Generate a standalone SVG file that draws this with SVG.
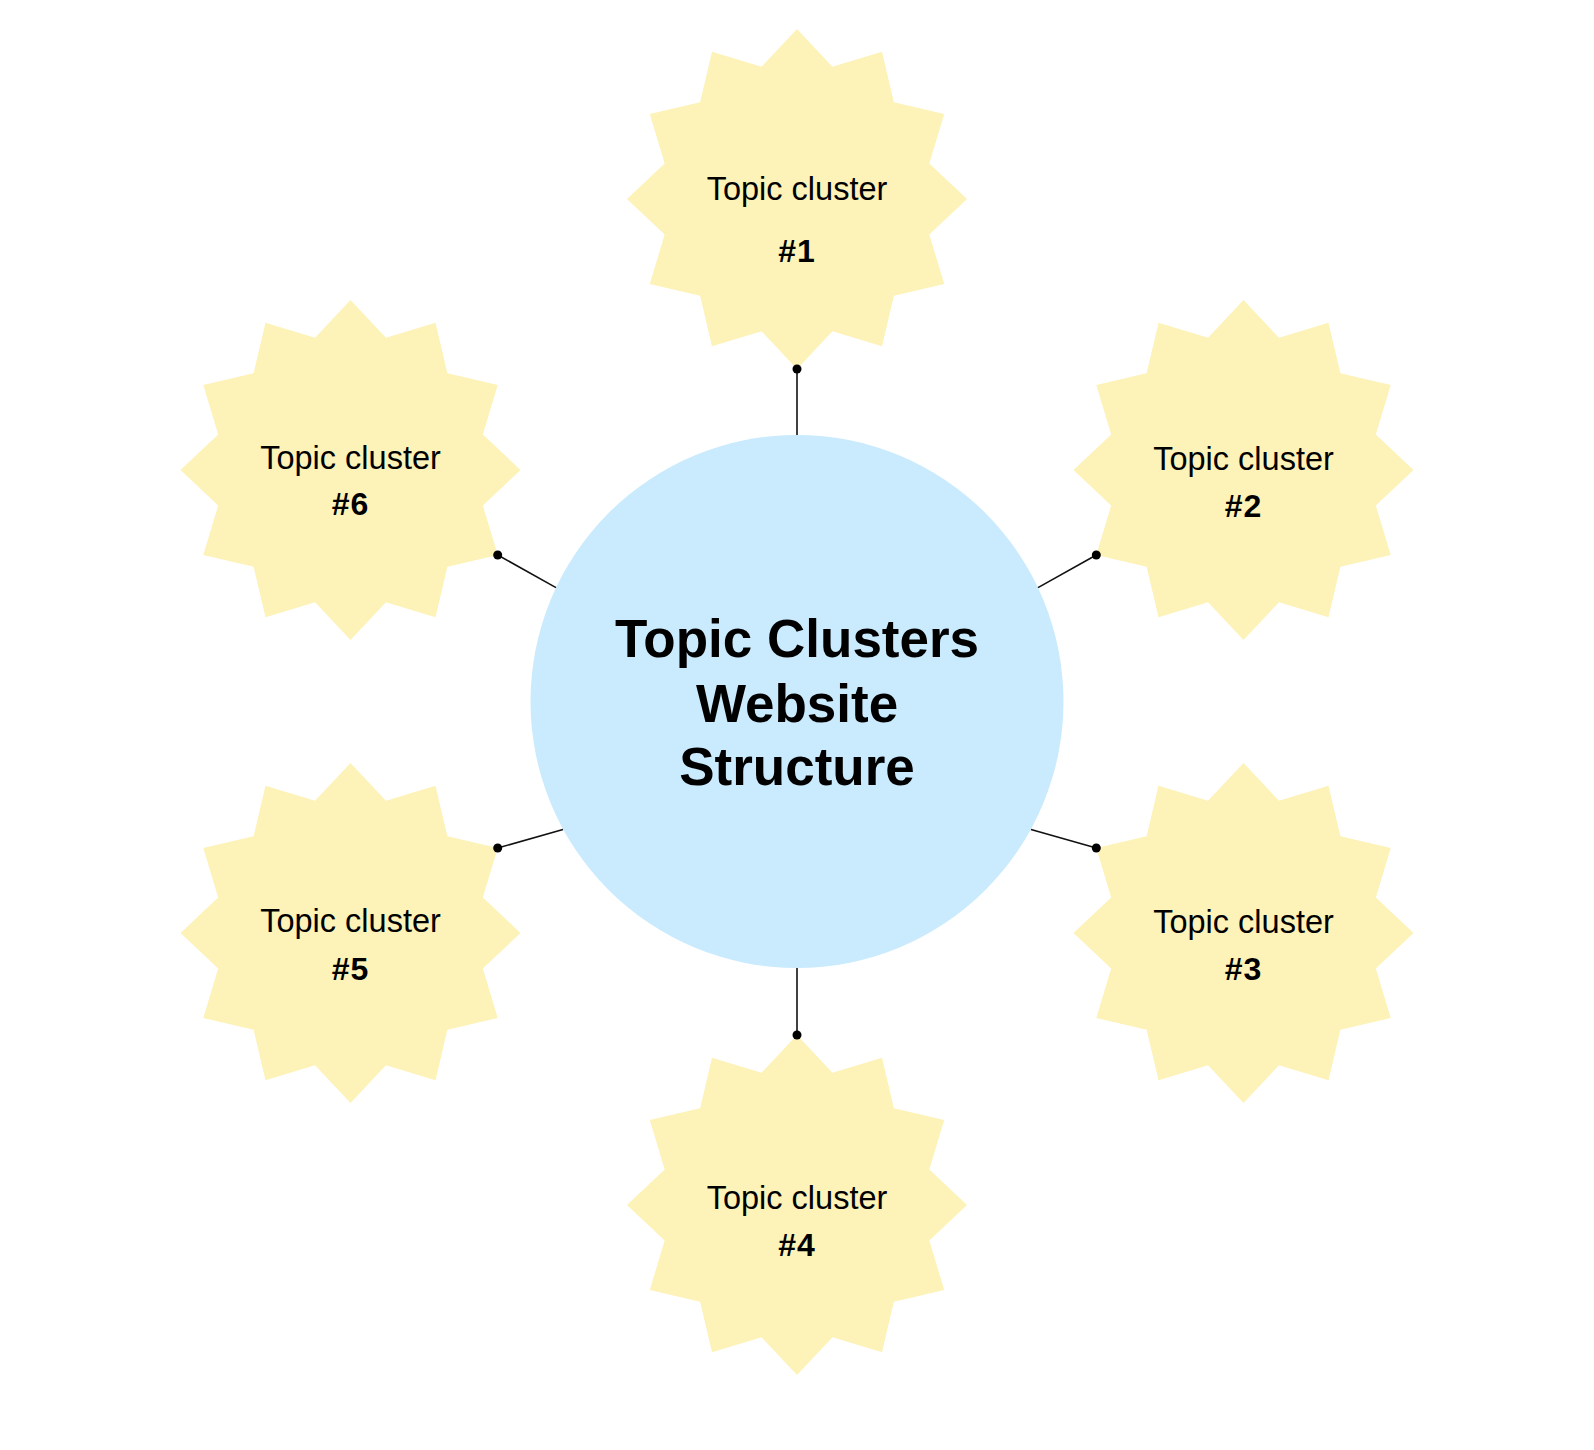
<svg xmlns="http://www.w3.org/2000/svg" xmlns:xlink="http://www.w3.org/1999/xlink" width="1594" height="1450" viewBox="0 0 1594 1450">
  <style>
    .star { fill: #FDF2B7; }
    .hub { fill: #CAEBFD; }
    .conn { stroke: #111111; stroke-width: 1.6; fill: none; }
    .dot { fill: #000000; }
    .lbl { font-family: "Liberation Sans", Arial, sans-serif; font-size: 32.5px; fill: #000000; text-anchor: middle; }
    .num { font-family: "Liberation Sans", Arial, sans-serif; font-size: 32px; font-weight: bold; fill: #000000; text-anchor: middle; letter-spacing: 1px; }
    .title { font-family: "Liberation Sans", Arial, sans-serif; font-size: 53px; font-weight: bold; fill: #000000; text-anchor: middle; }
  </style>
  <defs>
    <polygon id="starShape" points="0,-170 35.46,-132.33 85,-147.22 96.87,-96.87 147.22,-85 132.33,-35.46 170,0 132.33,35.46 147.22,85 96.87,96.87 85,147.22 35.46,132.33 0,170 -35.46,132.33 -85,147.22 -96.87,96.87 -147.22,85 -132.33,35.46 -170,0 -132.33,-35.46 -147.22,-85 -96.87,-96.87 -85,-147.22 -35.46,-132.33"/>
  </defs>
  <rect x="0" y="0" width="1594" height="1450" fill="#FFFFFF"/>

  <g id="hub">
    <circle class="hub" cx="797" cy="701.5" r="266.5"/>
    <text class="title" x="797" y="656.5">Topic Clusters</text>
    <text class="title" x="797" y="721.5">Website</text>
    <text class="title" x="797" y="785">Structure</text>
  </g>

  <g id="cluster1">
    <use xlink:href="#starShape" href="#starShape" class="star" transform="translate(797,199)"/>
    <text class="lbl" x="797" y="200">Topic cluster</text>
    <text class="num" x="797" y="261.5">#1</text>
  </g>
  <g id="cluster2">
    <use xlink:href="#starShape" href="#starShape" class="star" transform="translate(1243.5,470)"/>
    <text class="lbl" x="1243.5" y="470">Topic cluster</text>
    <text class="num" x="1243.5" y="516.5">#2</text>
  </g>
  <g id="cluster3">
    <use xlink:href="#starShape" href="#starShape" class="star" transform="translate(1243.5,933)"/>
    <text class="lbl" x="1243.5" y="933">Topic cluster</text>
    <text class="num" x="1243.5" y="980">#3</text>
  </g>
  <g id="cluster4">
    <use xlink:href="#starShape" href="#starShape" class="star" transform="translate(797,1205)"/>
    <text class="lbl" x="797" y="1209">Topic cluster</text>
    <text class="num" x="797" y="1255.5">#4</text>
  </g>
  <g id="cluster5">
    <use xlink:href="#starShape" href="#starShape" class="star" transform="translate(350.5,933)"/>
    <text class="lbl" x="350.5" y="932">Topic cluster</text>
    <text class="num" x="350.5" y="980">#5</text>
  </g>
  <g id="cluster6">
    <use xlink:href="#starShape" href="#starShape" class="star" transform="translate(350.5,470)"/>
    <text class="lbl" x="350.5" y="468.5">Topic cluster</text>
    <text class="num" x="350.5" y="515">#6</text>
  </g>

  <g id="connectors">
    <line class="conn" x1="797" y1="369" x2="797" y2="435"/>
    <line class="conn" x1="1096.3" y1="555" x2="1038" y2="587.6"/>
    <line class="conn" x1="1096.3" y1="848" x2="1031" y2="829.5"/>
    <line class="conn" x1="797" y1="1035" x2="797" y2="968"/>
    <line class="conn" x1="497.7" y1="848" x2="563" y2="829.5"/>
    <line class="conn" x1="497.7" y1="555" x2="556" y2="587.6"/>
    <circle class="dot" cx="797" cy="369" r="4.5"/>
    <circle class="dot" cx="1096.3" cy="555" r="4.5"/>
    <circle class="dot" cx="1096.3" cy="848" r="4.5"/>
    <circle class="dot" cx="797" cy="1035" r="4.5"/>
    <circle class="dot" cx="497.7" cy="848" r="4.5"/>
    <circle class="dot" cx="497.7" cy="555" r="4.5"/>
  </g>
</svg>
